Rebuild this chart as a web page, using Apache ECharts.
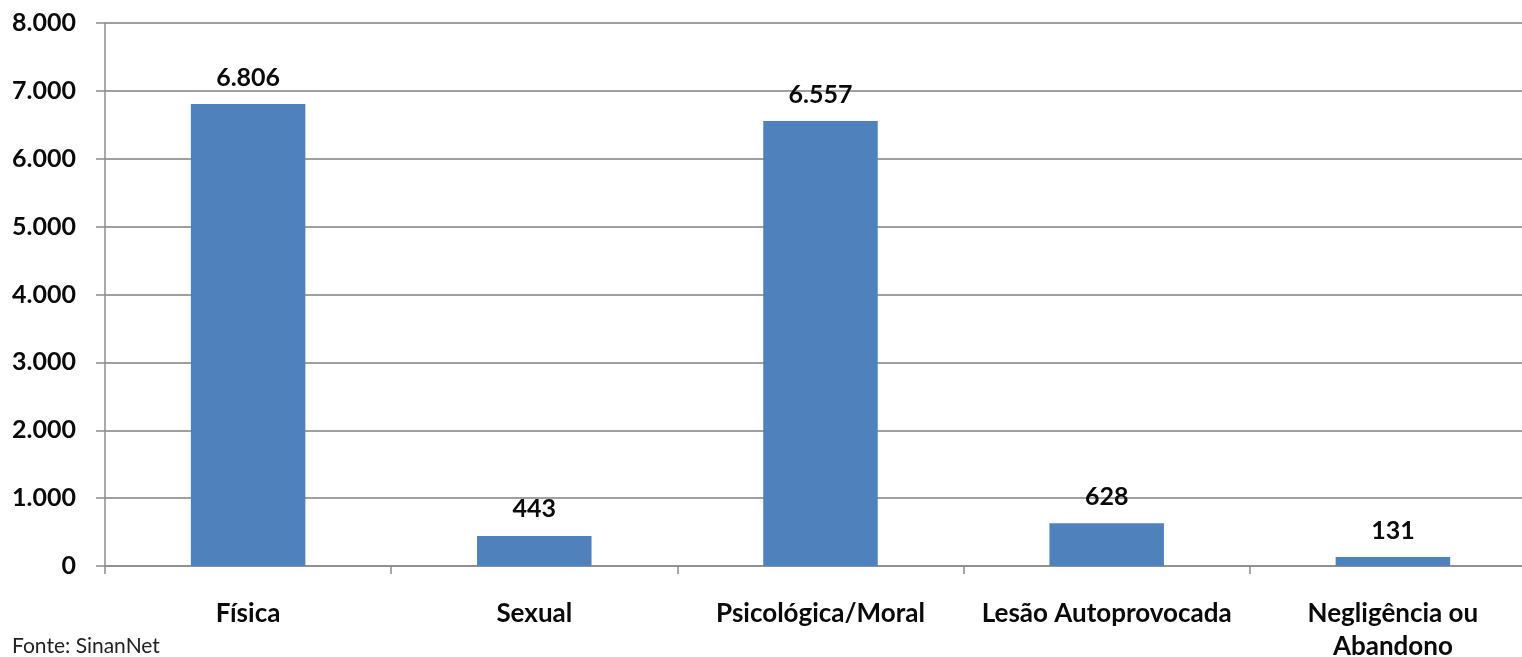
<!DOCTYPE html>
<html>
<head>
<meta charset="utf-8">
<script src="https://cdn.jsdelivr.net/npm/echarts@6/dist/echarts.min.js"></script>
<style>
  html, body { margin: 0; padding: 0; background: #fff; }
  #chart { width: 1522px; height: 657px; }
</style>
</head>
<body>
<div id="chart"></div>
<script>
// Notificações por tipo de violência
const categories = ['Física', 'Sexual', 'Psicológica/Moral', 'Lesão Autoprovocada', 'Negligência ou\nAbandono'];
const values = [6806, 443, 6557, 628, 131];
const yTicks = { min: 0, max: 8000, interval: 1000 };
const sourceNote = 'Fonte: SinanNet';

// Separador de milhar com ponto (pt-BR)
function fmt(v) {
  return String(v).replace(/\B(?=(\d{3})+(?!\d))/g, '.');
}

const FONT = 'Lato, "Open Sans", sans-serif';
const chart = echarts.init(document.getElementById('chart'));
chart.setOption({
  animation: false,
  backgroundColor: '#ffffff',
  grid: {
    left: 105, right: -14, top: 23, bottom: 91,
    containLabel: false, outerBoundsMode: 'none'
  },
  xAxis: {
    type: 'category',
    data: categories,
    axisLine: { lineStyle: { color: '#8c8c8c', width: 1.5 } },
    axisTick: { show: true, length: 8, inside: false, lineStyle: { color: '#8c8c8c', width: 1.5 } },
    axisLabel: {
      color: '#0a0a0a', fontFamily: FONT, fontWeight: 'bold', fontSize: 26,
      margin: 31, lineHeight: 33, interval: 0
    }
  },
  yAxis: {
    type: 'value',
    min: yTicks.min, max: yTicks.max, interval: yTicks.interval,
    axisLine: { show: true, lineStyle: { color: '#8c8c8c', width: 1.5 } },
    axisTick: { show: true, length: 9, lineStyle: { color: '#8c8c8c', width: 1.5 } },
    splitLine: { lineStyle: { color: '#a0a0a0', width: 2 } },
    axisLabel: {
      color: '#0a0a0a', fontFamily: FONT, fontWeight: 'bold', fontSize: 25,
      margin: 29, formatter: v => fmt(v)
    }
  },
  series: [{
    type: 'bar',
    data: values,
    barWidth: '40%',
    itemStyle: { color: '#4f81bd' },
    label: {
      show: true, position: 'top', distance: 14,
      color: '#0a0a0a', fontFamily: FONT, fontWeight: 'bold', fontSize: 25,
      formatter: p => fmt(p.value)
    }
  }],
  graphic: [{
    type: 'text', left: 12, top: 636,
    style: { text: sourceNote, fill: '#222', font: '21px ' + FONT }
  }]
});
</script>
</body>
</html>
